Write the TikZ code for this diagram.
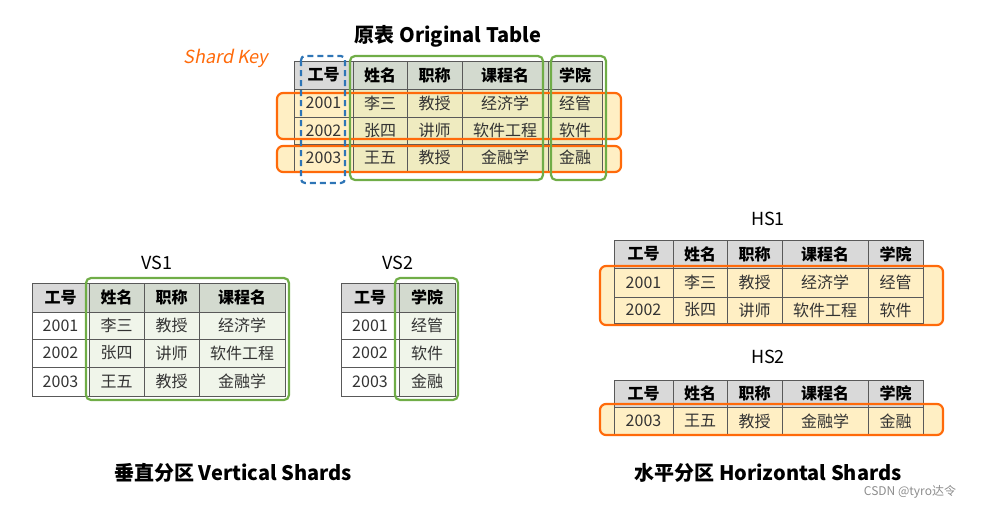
\documentclass[tikz,border=0pt]{standalone}
\usepackage{fontspec}
\setmainfont{Noto Sans CJK SC}
\newfontfamily\slfont[FakeSlant=0.2]{Noto Sans CJK SC}
\definecolor{hdgray}{HTML}{D9D9D9}
\definecolor{hdgreen}{HTML}{D3DACF}
\definecolor{rowyel}{HTML}{FFEFC4}
\definecolor{rowkhaki}{HTML}{EFEBC0}
\definecolor{rowgreen}{HTML}{F0F5EA}
\definecolor{shorange}{HTML}{FF6A0A}
\definecolor{shgreen}{HTML}{70AD47}
\definecolor{shblue}{HTML}{2E75B6}
\tikzset{
  cell/.style={draw=black!65, line width=0.7pt},
  hd/.style={font=\bfseries\fontsize{16}{16}\selectfont},
  dt/.style={font=\fontsize{16}{16}\selectfont, text=black!80},
  obox/.style={draw=shorange, line width=2.2pt, rounded corners=6pt},
  gbox/.style={draw=shgreen, line width=2.2pt, rounded corners=5pt},
  ttl/.style={font=\bfseries\fontsize{20}{20}\selectfont},
  lbl/.style={font=\fontsize{18}{18}\selectfont},
}
% one table row: y top, y bottom, style, list of x1/x2/fill/text
\newcommand{\tabrow}[5]{%
  \foreach \xa/\xb/\fc/\tx [count=\i] in {#5} {
    \draw[cell, fill=\fc] (\xa,#1) rectangle (\xb,#2);
    \node[#3] (#4-\i) at ({(\xa+\xb)/2},{(#1+#2)/2}) {\tx};
  }%
}
\begin{document}
\begin{tikzpicture}[x=1pt, y=-1pt]
\useasboundingbox (0,0) rectangle (991,509);

% Original table
\node[ttl] (t0) at (448,36) {原表 Original Table};
\node[font=\slfont\fontsize{18}{18}\selectfont, text=shorange] (sk) at (226,58) {Shard Key};
\fill[rowyel, rounded corners=6pt] (277,93) rectangle (621,139);
\fill[rowyel, rounded corners=6pt] (277,146) rectangle (621,172);
\tabrow{61}{89}{hd}{oh}{294/353/hdgray/工号, 353/407/hdgreen/姓名, 407/462/hdgreen/职称, 462/548/hdgreen/课程名, 548/602/hdgreen/学院}
\tabrow{89}{117}{dt}{oa}{294/353/rowyel/2001, 353/407/rowkhaki/李三, 407/462/rowkhaki/教授, 462/548/rowkhaki/经济学, 548/602/rowkhaki/经管}
\tabrow{117}{144}{dt}{ob}{294/353/rowyel/2002, 353/407/rowkhaki/张四, 407/462/rowkhaki/讲师, 462/548/rowkhaki/软件工程, 548/602/rowkhaki/软件}
\tabrow{144}{171}{dt}{oc}{294/353/rowyel/2003, 353/407/rowkhaki/王五, 407/462/rowkhaki/教授, 462/548/rowkhaki/金融学, 548/602/rowkhaki/金融}
\draw[obox] (277,93) rectangle (621,139);
\draw[obox] (277,146) rectangle (621,172);
\draw[shblue, line width=2.2pt, dash pattern=on 6pt off 4pt, rounded corners=4pt] (301,56) rectangle (345,183);
\draw[gbox] (350,56) rectangle (543,180);
\draw[gbox] (551,56) rectangle (606,180);

% Vertical shards
\node[lbl] (vs1) at (157,263) {VS1};
\tabrow{283}{312}{hd}{ah}{32/89/hdgray/工号, 89/144/hdgreen/姓名, 144/199/hdgreen/职称, 199/285/hdgreen/课程名}
\tabrow{312}{339}{dt}{aa}{32/89/white/2001, 89/144/rowgreen/李三, 144/199/rowgreen/教授, 199/285/rowgreen/经济学}
\tabrow{339}{367}{dt}{ab}{32/89/white/2002, 89/144/rowgreen/张四, 144/199/rowgreen/讲师, 199/285/rowgreen/软件工程}
\tabrow{367}{396}{dt}{ac}{32/89/white/2003, 89/144/rowgreen/王五, 144/199/rowgreen/教授, 199/285/rowgreen/金融学}
\draw[gbox] (86,278) rectangle (289,400);

\node[lbl] (vs2) at (398,263) {VS2};
\tabrow{283}{312}{hd}{bh}{341/399/hdgray/工号, 399/455/hdgreen/学院}
\tabrow{312}{339}{dt}{ba}{341/399/white/2001, 399/455/rowgreen/经管}
\tabrow{339}{367}{dt}{bb}{341/399/white/2002, 399/455/rowgreen/软件}
\tabrow{367}{396}{dt}{bc}{341/399/white/2003, 399/455/rowgreen/金融}
\draw[gbox] (395,278) rectangle (458,400);

\node[ttl] (vt) at (233,473) {垂直分区 Vertical Shards};

% Horizontal shards
\node[lbl] (hs1) at (768,219) {HS1};
\fill[rowyel, rounded corners=6pt] (600,266) rectangle (943,325);
\tabrow{240}{268}{hd}{ch}{614/673/hdgray/工号, 673/727/hdgray/姓名, 727/782/hdgray/职称, 782/868/hdgray/课程名, 868/923/hdgray/学院}
\tabrow{268}{297}{dt}{ca}{614/673/rowyel/2001, 673/727/rowyel/李三, 727/782/rowyel/教授, 782/868/rowyel/经济学, 868/923/rowyel/经管}
\tabrow{297}{323}{dt}{cb}{614/673/rowyel/2002, 673/727/rowyel/张四, 727/782/rowyel/讲师, 782/868/rowyel/软件工程, 868/923/rowyel/软件}
\draw[obox] (600,266) rectangle (943,325);

\node[lbl] (hs2) at (768,357) {HS2};
\fill[rowyel, rounded corners=6pt] (600,404) rectangle (943,435);
\tabrow{380}{407}{hd}{dh}{614/673/hdgray/工号, 673/727/hdgray/姓名, 727/782/hdgray/职称, 782/868/hdgray/课程名, 868/923/hdgray/学院}
\tabrow{407}{435}{dt}{da}{614/673/rowyel/2003, 673/727/rowyel/王五, 727/782/rowyel/教授, 782/868/rowyel/金融学, 868/923/rowyel/金融}
\draw[obox] (600,404) rectangle (943,435);

\node[ttl] (ht) at (768,473) {水平分区 Horizontal Shards};
\node[font=\fontsize{12}{12}\selectfont, text=black!45] (wm) at (910,492) {CSDN @tyro达令};
\end{tikzpicture}
\end{document}
